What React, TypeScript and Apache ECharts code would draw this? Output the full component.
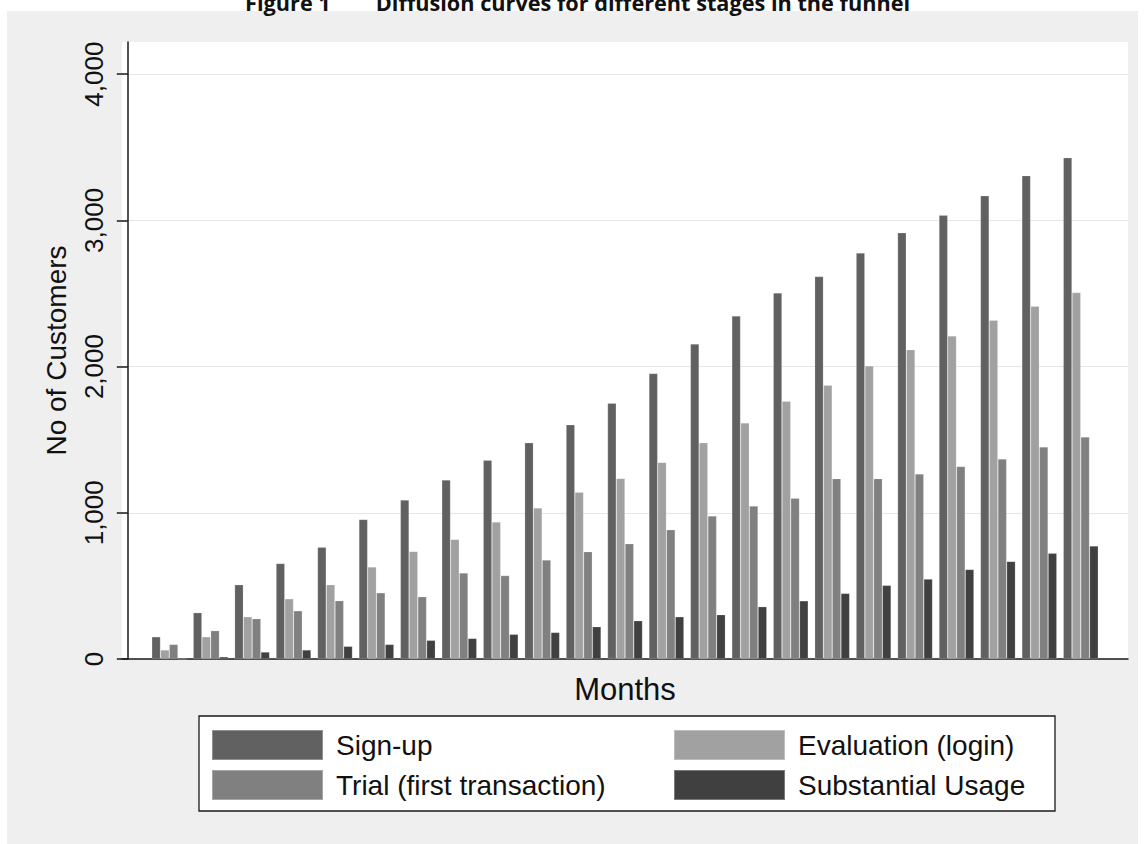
import React, { useEffect, useRef } from "react";
import * as echarts from "echarts";

const months = [1, 2, 3, 4, 5, 6, 7, 8, 9, 10, 11, 12, 13, 14, 15, 16, 17, 18, 19, 20, 21, 22, 23];
const signUp = [152, 317, 508, 654, 764, 955, 1087, 1224, 1359, 1479, 1602, 1750, 1953, 2155, 2346, 2504, 2616, 2777, 2915, 3035, 3169, 3306, 3429];
const evaluation = [62, 152, 289, 412, 508, 629, 736, 818, 938, 1033, 1141, 1235, 1345, 1479, 1615, 1763, 1873, 2005, 2115, 2210, 2317, 2413, 2507];
const trial = [100, 194, 276, 330, 399, 453, 426, 588, 571, 677, 734, 788, 884, 979, 1046, 1100, 1234, 1234, 1265, 1317, 1369, 1451, 1518];
const usage = [0, 15, 48, 62, 87, 100, 128, 141, 169, 182, 221, 262, 289, 303, 358, 398, 449, 504, 547, 613, 668, 723, 773];
const seriesNames = ["Sign-up", "Evaluation (login)", "Trial (first transaction)", "Substantial Usage"];
const yTicks = [0, 1000, 2000, 3000, 4000];

export default function App() {
  const ref = useRef<HTMLDivElement>(null);
  useEffect(() => {
    const chart = echarts.init(ref.current!, null, { renderer: "svg" });
    const font = "'Liberation Sans', Arial, sans-serif";
    const colors = ["#616161", "#a1a1a1", "#808080", "#404040"];
    const values = [signUp, evaluation, trial, usage];
    chart.setOption({
      animation: false,
      backgroundColor: "#ffffff",
      title: {
        text: "{a|Figure 1}{g|}{a|Diffusion curves for different stages in the funnel}",
        left: 245,
        top: -9,
        padding: 0,
        textStyle: {
          rich: {
            a: { fontFamily: "'Open Sans', sans-serif", fontWeight: "bold", fontSize: 21.7, color: "#111" },
            g: { width: 45 },
          },
        },
      },
      graphic: [
        {
          type: "rect",
          shape: { x: 7, y: 11, width: 1131, height: 840 },
          style: { fill: "#efefef" },
          z: -10,
          silent: true,
        },
      ],
      grid: {
        left: 122,
        right: 18,
        top: 42,
        bottom: 185,
        show: true,
        backgroundColor: "#ffffff",
        borderWidth: 0,
      },
      xAxis: {
        type: "value",
        min: -0.14,
        max: 24.14,
        name: "Months",
        nameLocation: "middle",
        nameGap: 15,
        nameTextStyle: { fontFamily: font, fontSize: 31, color: "#111" },
        axisLine: { show: true, onZero: false, lineStyle: { color: "#1a1a1a", width: 1.5 } },
        axisTick: { show: false },
        axisLabel: { show: false },
        splitLine: { show: false },
      },
      yAxis: {
        type: "value",
        min: 0,
        max: 4220,
        interval: 1000,
        name: "No of Customers",
        nameLocation: "middle",
        nameGap: 52,
        nameTextStyle: { fontFamily: font, fontSize: 28, color: "#111" },
        axisLine: { show: true, lineStyle: { color: "#1a1a1a", width: 1.5 } },
        axisTick: { show: true, length: 11, lineStyle: { color: "#1a1a1a", width: 1.5 }, customValues: yTicks },
        axisLabel: {
          rotate: 90,
          margin: 15,
          fontFamily: font,
          fontSize: 26,
          color: "#111",
          customValues: yTicks,
          formatter: (v: number) => String(v).replace(/\B(?=(\d{3})+(?!\d))/g, ","),
        },
        splitLine: { show: true, lineStyle: { color: "#e6e6e6", width: 1 } },
      },
      legend: {
        left: 199,
        top: 716,
        width: 840,
        orient: "horizontal",
        padding: [13, 12, 10, 12],
        itemWidth: 111,
        itemHeight: 30,
        itemGap: 8,
        backgroundColor: "#ffffff",
        borderColor: "#1a1a1a",
        borderWidth: 1.3,
        icon: "rect",
        selectedMode: false,
        formatter: (name: string) =>
          name === "Sign-up" || name.indexOf("Trial") === 0 ? `{a|${name}}` : `{b|${name}}`,
        textStyle: {
          fontFamily: font,
          fontSize: 28,
          color: "#111",
          rich: {
            a: { width: 329, padding: [0, 0, 0, 8], fontFamily: font, fontSize: 28, color: "#111", lineHeight: 30 },
            b: { width: 245, padding: [0, 0, 0, 8], fontFamily: font, fontSize: 28, color: "#111", lineHeight: 30 },
          },
        },
        data: seriesNames,
      },
      series: values.map((v, k) => ({
        type: "bar",
        name: seriesNames[k],
        data: months.map((m, i) => [m, v[i]]),
        barWidth: 8.75,
        barGap: "0%",
        itemStyle: { color: colors[k], borderColor: "rgba(255,255,255,0.3)", borderWidth: 0.6 },
      })),
    });
    return () => chart.dispose();
  }, []);
  return <div ref={ref} style={{ position: "fixed", left: 0, top: 0, width: 1146, height: 844 }} />;
}
